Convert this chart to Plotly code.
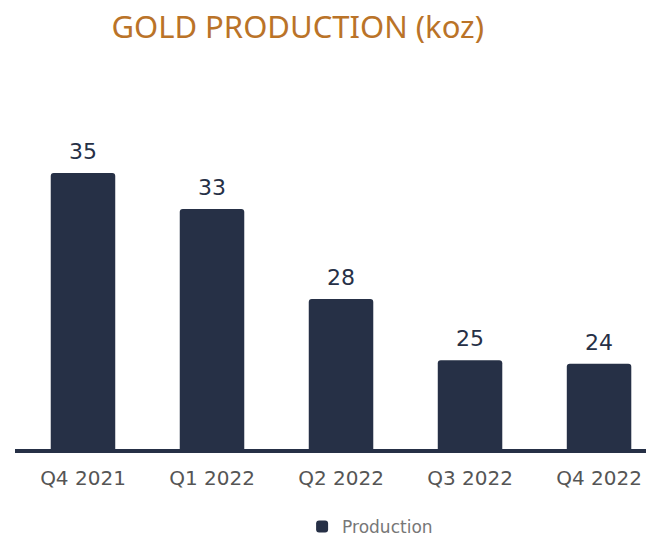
import plotly.graph_objects as go

categories = ["Q4 2021", "Q1 2022", "Q2 2022", "Q3 2022", "Q4 2022"]
production = [35.0, 33.0, 28.0, 24.6, 24.4]
labels = [f"{v:.0f}" for v in production]

NAVY = "#263046"

fig = go.Figure()
fig.add_trace(go.Bar(
    x=list(range(len(categories))),
    y=production,
    name="Production",
    marker=dict(color=NAVY, cornerradius=3, line=dict(width=0)),
    width=0.5,
))

for i, (v, t) in enumerate(zip(production, labels)):
    fig.add_annotation(x=i, y=v, text=t, showarrow=False, yanchor="bottom",
                       yshift=7, font=dict(size=22, color=NAVY, family="DejaVu Sans"))

fig.update_layout(
    width=646, height=536,
    margin=dict(l=15, r=0, t=80, b=87, autoexpand=False),
    paper_bgcolor="white", plot_bgcolor="white",
    title=dict(text="GOLD PRODUCTION (koz)", x=0.448, xanchor="center",
               y=0.95, yanchor="middle", xref="paper",
               font=dict(family="Noto Sans", size=31, color="#BA7328")),
    xaxis=dict(range=[-0.527, 4.364], tickmode="array",
               tickvals=list(range(len(categories))), ticktext=categories,
               showgrid=False, zeroline=False, showline=True,
               linecolor=NAVY, linewidth=4,
               tickfont=dict(family="DejaVu Sans", size=20, color="#555555"),
               ticks="", ticklen=0, ticklabelstandoff=8),
    yaxis=dict(range=[19.67, 40.17], visible=False, showgrid=False),
    showlegend=True,
    legend=dict(orientation="h", x=0.455, xanchor="left", y=-0.211, yanchor="middle",
                font=dict(family="DejaVu Sans", size=17, color="#777777"),
                itemwidth=30),
)

fig.write_html("out.html", config={"displayModeBar": False},
               post_script="document.body.style.margin='0';document.body.style.overflow='hidden';")
